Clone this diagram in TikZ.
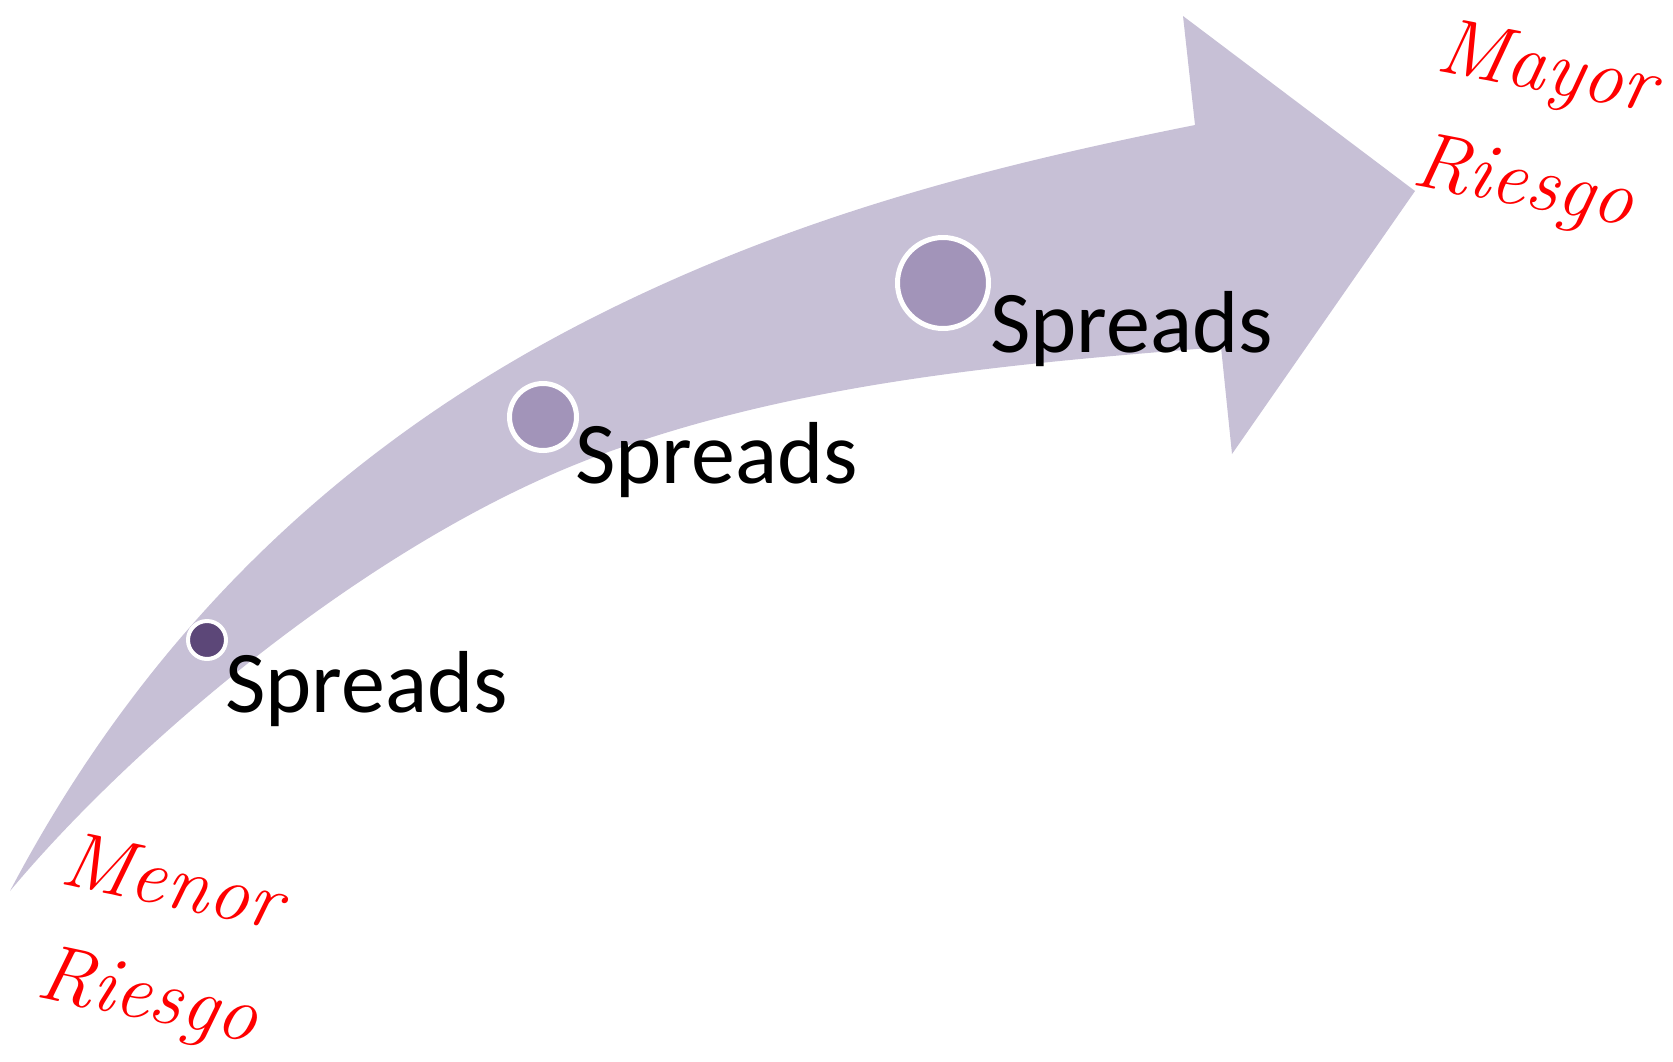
\documentclass[tikz,border=0pt]{standalone}
\usepackage{fontspec}
\newfontfamily\calibfont{Carlito}
\definecolor{arrowfill}{HTML}{C7C0D6}
\definecolor{dotdark}{HTML}{5C4778}
\definecolor{dotmid}{HTML}{A294B9}
\definecolor{riskred}{HTML}{FF0000}
\tikzset{
  spread/.style={inner sep=0pt, anchor=base west, font=\calibfont\fontsize{88}{100}\selectfont, text=black},
  risk/.style={inner sep=0pt, anchor=base west, font=\itshape\fontsize{80}{96}\selectfont, text=riskred},
  dot/.style={circle, draw=white, inner sep=0pt}
}
\begin{document}
\begin{tikzpicture}[x=1pt,y=-1pt]
\useasboundingbox (0,0) rectangle (1673,1061);
% curved arrow
\coordinate (tail) at (10,891);
\coordinate (om) at (600,314);
\coordinate (oneck) at (1195,125);
\coordinate (barbup) at (1183,16);
\coordinate (tip) at (1415,191);
\coordinate (barblow) at (1232,454);
\coordinate (ineck) at (1221,347);
\coordinate (im) at (600,455);
\fill[arrowfill] (tail)
  .. controls (160,606) and (370,429) .. (om)
  .. controls (800,214) and (995,165) .. (oneck)
  -- (barbup) -- (tip) -- (barblow) -- (ineck)
  .. controls (1021,363) and (800,381) .. (im)
  .. controls (370,540) and (130,747) .. (tail)
  -- cycle;
% dots
\node[dot, fill=dotdark, line width=4pt, minimum size=38pt] (d1) at (207,640) {};
\node[dot, fill=dotmid, line width=5pt, minimum size=67pt] (d2) at (543,417) {};
\node[dot, fill=dotmid, line width=5pt, minimum size=91pt] (d3) at (943,283) {};
% labels
\node[spread] (s1) at (225,712) {Spreads};
\node[spread] (s2) at (575,483) {Spreads};
\node[spread] (s3) at (990,352) {Spreads};
% risk texts
\node[risk, rotate=-12] (menor) at (58,883) {Menor};
\node[risk, rotate=-12] (riesgo1) at (34,996) {Riesgo};
\node[risk, rotate=-11] (mayor) at (1434,70) {Mayor};
\node[risk, rotate=-11] (riesgo2) at (1410,184) {Riesgo};
\end{tikzpicture}
\end{document}
